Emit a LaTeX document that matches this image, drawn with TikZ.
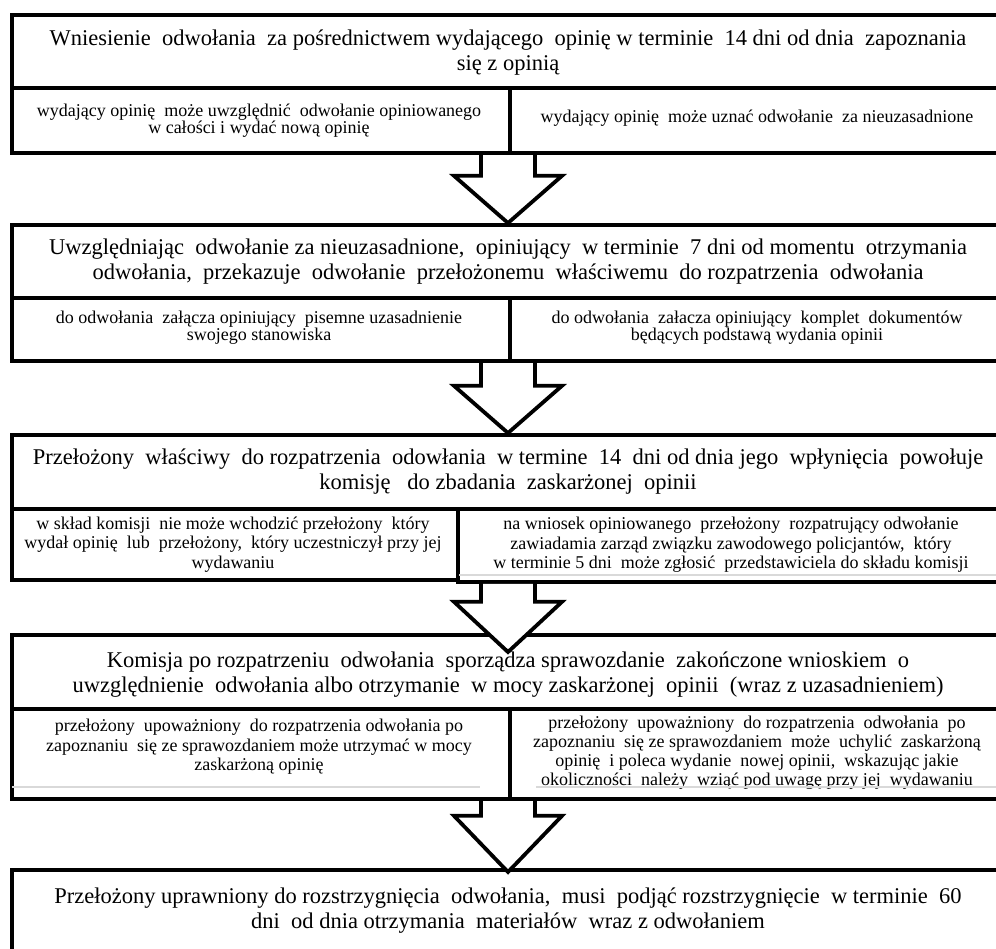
\documentclass[tikz,border=0pt]{standalone}
\usepackage{fontspec}
\setmainfont{Liberation Serif}
\usetikzlibrary{calc}
\tikzset{
  box/.style={draw=black, line width=3.8pt, fill=white, anchor=north west, inner sep=0pt, align=center, text=black},
  headfont/.style={font=\fontsize{22.5}{25}\selectfont, align=center, inner sep=0pt},
  subfont/.style={font=\fontsize{18}{17.5}\selectfont, align=center, inner sep=0pt},
  subfontb/.style={font=\fontsize{18}{19.5}\selectfont, align=center, inner sep=0pt},
  subfontc/.style={font=\fontsize{18}{19}\selectfont, align=center, inner sep=0pt},
  subbox/.style={box, font=\fontsize{18}{17.5}\selectfont},
  blk/.style={draw=black, line width=3.8pt, line join=miter},
  shadowline/.style={draw=gray!30, line width=1.5pt},
}
% #1 start (bottom of upper block), #2 target (top of lower block, gives x of arrow), #3 drop of wings, #4 extra depth of tip
\newcommand\blkarrow[4]{%
  \fill[white] let \p1=(#1), \p2=(#2) in
    (\x2-27pt,\y1-2pt) -- (\x2-27pt,\y1-#3pt) -- (\x2-54pt,\y1-#3pt) -- (\x2,\y2-#4pt)
    -- (\x2+54pt,\y1-#3pt) -- (\x2+27pt,\y1-#3pt) -- (\x2+27pt,\y1-2pt) -- cycle;
  \draw[blk] let \p1=(#1), \p2=(#2) in
    (\x2-27pt,\y1) -- (\x2-27pt,\y1-#3pt) -- (\x2-54pt,\y1-#3pt) -- (\x2,\y2-#4pt)
    -- (\x2+54pt,\y1-#3pt) -- (\x2+27pt,\y1-#3pt) -- (\x2+27pt,\y1);
}
\begin{document}
\begin{tikzpicture}[x=1pt,y=-1pt]
\useasboundingbox (0,0) rectangle (996,948);
\clip (0,0) rectangle (996,948);
\fill[white] (0,0) rectangle (996,948);

% Block 1
\node[box, minimum width=1040pt, minimum height=73pt] (B1) at (10,13) {};
\node[headfont] (T1) at (508,53)
  {Wniesienie \ odwołania \ za pośrednictwem wydającego \ opinię w terminie \ 14 dni od dnia \ zapoznania\\ się z opinią};
\node[box, minimum width=498pt, minimum height=65pt] (B1l) at (10,86) {};
\node[subfont] (T1l) at (259,120.5)
  {wydający opinię \ może uwzględnić \ odwołanie opiniowanego\\ w całości i wydać nową opinię};
\node[box, minimum width=540pt, minimum height=65pt] (B1r) at (508,86) {};
\node[subfont] (T1r) at (757,118.5)
  {wydający opinię \ może uznać odwołanie \ za nieuzasadnione};

% Block 2
\node[box, minimum width=1040pt, minimum height=73pt] (B2) at (10,223) {};
\node[headfont] (T2) at (508,261.5)
  {Uwzględniając \ odwołanie za nieuzasadnione, \ opiniujący \ w terminie \ 7 dni od momentu \ otrzymania\\
   odwołania, \ przekazuje \ odwołanie \ przełożonemu \ właściwemu \ do rozpatrzenia \ odwołania};
\node[box, minimum width=498pt, minimum height=63pt] (B2l) at (10,296) {};
\node[subfont] (T2l) at (259,327.5)
  {do odwołania \ załącza opiniujący \ pisemne uzasadnienie\\ swojego stanowiska};
\node[box, minimum width=540pt, minimum height=63pt] (B2r) at (508,296) {};
\node[subfont] (T2r) at (757,327.5)
  {do odwołania \ załacza opiniujący \ komplet \ dokumentów\\ będących podstawą wydania opinii};

% Block 3
\node[box, minimum width=1040pt, minimum height=74pt] (B3) at (10,433) {};
\node[headfont] (T3) at (508,471.5)
  {Przełożony \ właściwy \ do rozpatrzenia \ odowłania \ w termine \ 14 \ dni od dnia jego \ wpłynięcia \ powołuje\\
   komisję \ \ do zbadania \ zaskarżonej \ opinii};
\node[box, minimum width=446pt, minimum height=71pt] (B3l) at (10,507) {};
\node[subfontb] (T3l) at (233,544.5)
  {w skład komisji \ nie może wchodzić przełożony \ który\\ wydał opinię \ lub \ przełożony, \ który uczestniczył przy jej\\ wydawaniu};
\node[box, minimum width=590pt, minimum height=73pt] (B3r) at (456,507) {};
\node[subfontb] (T3r) at (731,545)
  {na wniosek opiniowanego \ przełożony \ rozpatrujący odwołanie\\ zawiadamia zarząd związku zawodowego policjantów, \ który\\ w terminie 5 dni \ może zgłosić \ przedstawiciela do składu komisji};
\draw[shadowline] (459,575) -- (1006,575);

% Block 4
\node[box, minimum width=1040pt, minimum height=74pt] (B4) at (10,633) {};
\node[headfont] (T4) at (508,675)
  {Komisja po rozpatrzeniu \ odwołania \ sporządza sprawozdanie \ zakończone wnioskiem \ o\\
   uwzględnienie \ odwołania albo otrzymanie \ w mocy zaskarżonej \ opinii \ (wraz z uzasadnieniem)};
\node[box, minimum width=498pt, minimum height=90pt] (B4l) at (10,707) {};
\node[subfontb] (T4l) at (259,747)
  {przełożony \ upoważniony \ do rozpatrzenia odwołania po\\ zapoznaniu \ się ze sprawozdaniem może utrzymać w mocy\\ zaskarżoną opinię};
\node[box, minimum width=540pt, minimum height=90pt] (B4r) at (508,707) {};
\node[subfontc] (T4r) at (757,753)
  {przełożony \ upoważniony \ do rozpatrzenia \ odwołania \ po\\ zapoznaniu \ się ze sprawozdaniem \ może \ uchylić \ zaskarżoną\\ opinię \ i poleca wydanie \ nowej opinii, \ wskazując jakie\\ okoliczności \ należy \ wziąć pod uwagę przy jej \ wydawaniu};
\draw[shadowline] (12,787) -- (480,787);
\draw[shadowline] (536,787) -- (1006,787);

% Block 5
\node[box, minimum width=1040pt, minimum height=110pt] (B5) at (10,868) {};
\node[headfont] (T5) at (508,911)
  {Przełożony uprawniony do rozstrzygnięcia \ odwołania, \ musi \ podjąć rozstrzygnięcie \ w terminie \ 60\\
   dni \ od dnia otrzymania \ materiałów \ wraz z odwołaniem};

% Block arrows
\blkarrow{B1l.south east}{T2.north |- B2.north}{21}{0}
\blkarrow{B2l.south east}{T3.north |- B3.north}{23}{0}
\blkarrow{B3l.south east}{T4.north |- B4.north}{20}{19}
\blkarrow{B4l.south east}{T5.north |- B5.north}{15}{4}
\end{tikzpicture}
\end{document}
